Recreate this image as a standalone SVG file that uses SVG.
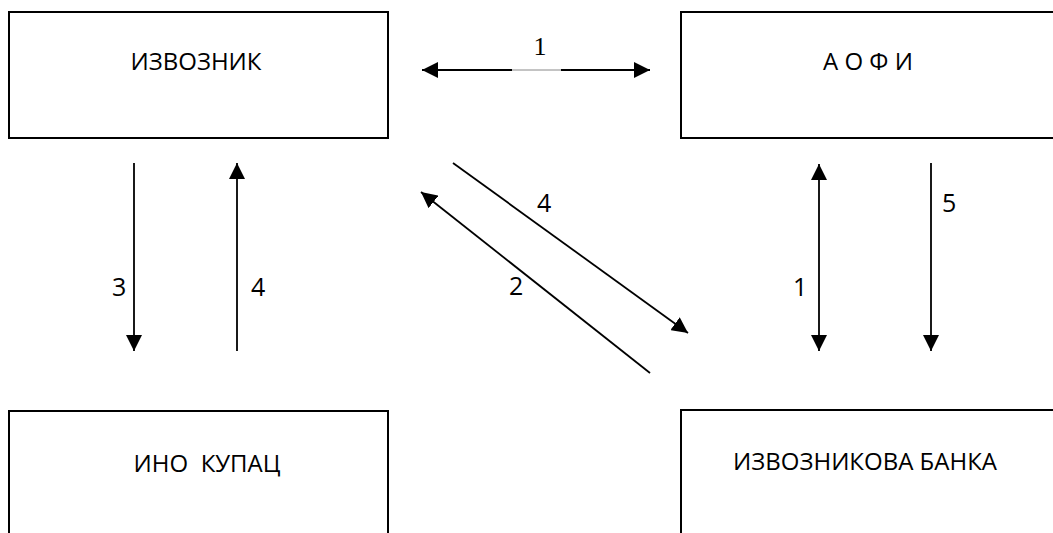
<svg xmlns="http://www.w3.org/2000/svg" width="1053" height="533" viewBox="0 0 1053 533">
<style>
.box{fill:#fff;stroke:#000;stroke-width:2}
.t{font-family:"Open Sans","Noto Sans",sans-serif;font-size:24px;fill:#000;text-anchor:middle}
.n{font-family:"Open Sans","Noto Sans",sans-serif;font-size:25px;fill:#000}
.s{font-family:"Liberation Serif",serif;font-size:26px;fill:#000;text-anchor:middle}
.c{stroke:#000;stroke-width:1.8;fill:none}
</style>
<defs>
<marker id="ah" viewBox="0 0 16 16" refX="16" refY="8" markerWidth="16" markerHeight="16" markerUnits="userSpaceOnUse" orient="auto-start-reverse">
<path d="M0,0 L16,8 L0,16 Z" fill="#000"/>
</marker>
</defs>
<rect width="1053" height="533" fill="#fff"/>
<g id="izvoznik"><rect class="box" x="9" y="12" width="379" height="126"/><text class="t" x="196" y="70">ИЗВОЗНИК</text></g>
<g id="aofi"><rect class="box" x="681" y="12" width="390" height="126"/><text class="t" x="868" y="70">А О Ф И</text></g>
<g id="ino-kupac"><rect class="box" x="9" y="411" width="379" height="140"/><text class="t" x="207" y="472" xml:space="preserve">ИНО  КУПАЦ</text></g>
<g id="banka"><rect class="box" x="681" y="410" width="390" height="140"/><text class="t" x="865" y="470">ИЗВОЗНИКОВА БАНКА</text></g>
<g id="connectors">
<line class="c" x1="512" y1="70" x2="422" y2="70" marker-end="url(#ah)"/>
<line class="c" x1="561" y1="70" x2="650" y2="70" marker-end="url(#ah)"/>
<line x1="512" y1="70" x2="561" y2="70" stroke="#888" stroke-width="1"/>
<text class="s" x="540" y="55">1</text>
<line class="c" x1="134" y1="163" x2="134" y2="351" marker-end="url(#ah)"/>
<text class="n" x="112" y="296">3</text>
<line class="c" x1="237" y1="351" x2="237" y2="163" marker-end="url(#ah)"/>
<text class="n" x="251" y="296">4</text>
<line class="c" x1="453" y1="163" x2="688" y2="333" marker-end="url(#ah)"/>
<text class="n" x="537" y="212">4</text>
<line class="c" x1="650" y1="373" x2="421" y2="192" marker-end="url(#ah)"/>
<text class="n" x="509" y="295">2</text>
<line class="c" x1="819" y1="164" x2="819" y2="351" marker-start="url(#ah)" marker-end="url(#ah)"/>
<text class="n" x="793" y="296">1</text>
<line class="c" x1="931" y1="163" x2="931" y2="351" marker-end="url(#ah)"/>
<text class="n" x="942" y="212">5</text>
</g>
</svg>
